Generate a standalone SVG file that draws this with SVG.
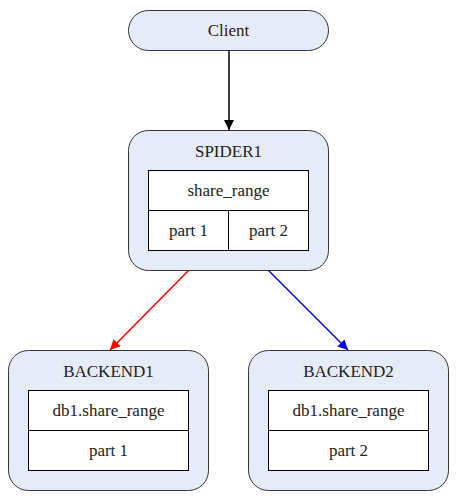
<svg xmlns="http://www.w3.org/2000/svg" width="457" height="500" viewBox="0 0 457 500">
<style>
.node{fill:#e6ecf7;stroke:#333;stroke-width:1}
.cell{fill:#fff;stroke:#000;stroke-width:1}
.lbl{font-family:"Liberation Serif",Tinos,"Times New Roman",Times,"DejaVu Serif",serif;font-size:17px;fill:#222;text-anchor:middle;dominant-baseline:central}
.edge{fill:none;stroke-width:1.5}
</style>
<defs>
<marker id="ab" viewBox="0 0 10 10" refX="10" refY="5" markerWidth="10" markerHeight="10" markerUnits="userSpaceOnUse" orient="auto"><path d="M0,0 L10,5 L0,10 z" fill="#000"/></marker>
<marker id="ar" viewBox="0 0 10 10" refX="10" refY="5" markerWidth="10" markerHeight="10" markerUnits="userSpaceOnUse" orient="auto"><path d="M0,0 L10,5 L0,10 z" fill="#f00"/></marker>
<marker id="abl" viewBox="0 0 10 10" refX="10" refY="5" markerWidth="10" markerHeight="10" markerUnits="userSpaceOnUse" orient="auto"><path d="M0,0 L10,5 L0,10 z" fill="#00f"/></marker>
</defs>
<g id="connectors">
<line class="edge" x1="229" y1="50" x2="229" y2="130" stroke="#000" marker-end="url(#ab)"/>
<line class="edge" x1="189" y1="270" x2="110" y2="350" stroke="#f00" marker-end="url(#ar)"/>
<line class="edge" x1="268" y1="270" x2="348" y2="350" stroke="#00f" marker-end="url(#abl)"/>
</g>
<g id="client">
<rect class="node" x="128.5" y="10.5" width="200" height="40" rx="20"/>
<text class="lbl" x="228.5" y="30">Client</text>
</g>
<g id="spider1">
<rect class="node" x="128.5" y="130.5" width="200" height="140" rx="20"/>
<text class="lbl" x="228.5" y="151">SPIDER1</text>
<rect class="cell" x="148.5" y="170.5" width="160" height="80"/>
<line x1="148.5" y1="210.5" x2="308.5" y2="210.5" stroke="#000"/>
<line x1="228.5" y1="210.5" x2="228.5" y2="250.5" stroke="#000"/>
<text class="lbl" x="228.5" y="190">share_range</text>
<text class="lbl" x="188.5" y="230">part 1</text>
<text class="lbl" x="268.5" y="230">part 2</text>
</g>
<g id="backend1">
<rect class="node" x="8.5" y="350.5" width="200" height="140" rx="20"/>
<text class="lbl" x="108.5" y="371">BACKEND1</text>
<rect class="cell" x="28.5" y="390.5" width="160" height="80"/>
<line x1="28.5" y1="430.5" x2="188.5" y2="430.5" stroke="#000"/>
<text class="lbl" x="108.5" y="410">db1.share_range</text>
<text class="lbl" x="108.5" y="450">part 1</text>
</g>
<g id="backend2">
<rect class="node" x="248.5" y="350.5" width="200" height="140" rx="20"/>
<text class="lbl" x="348.5" y="371">BACKEND2</text>
<rect class="cell" x="268.5" y="390.5" width="160" height="80"/>
<line x1="268.5" y1="430.5" x2="428.5" y2="430.5" stroke="#000"/>
<text class="lbl" x="348.5" y="410">db1.share_range</text>
<text class="lbl" x="348.5" y="450">part 2</text>
</g>
</svg>
